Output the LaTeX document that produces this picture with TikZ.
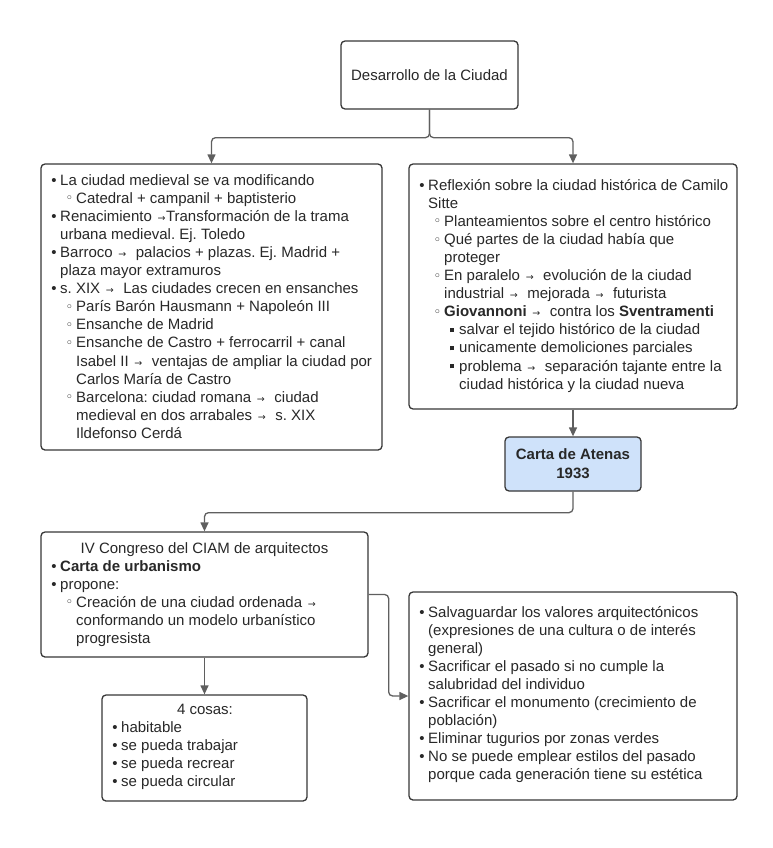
\documentclass[tikz,border=0pt]{standalone}
\usepackage{fontspec}
\setmainfont{Liberation Sans}
\newfontfamily\symfont{DejaVu Sans}
\usetikzlibrary{arrows.meta}
\definecolor{edgecol}{RGB}{55,55,55}
\definecolor{conncol}{RGB}{95,95,95}
\definecolor{txtcol}{RGB}{40,40,40}
\definecolor{cartafill}{RGB}{207,226,250}
\newcommand\bA{\par\leftskip=8pt\noindent\llap{\textbullet\hspace{3.5pt}}}
\newcommand\bB{\par\leftskip=24pt\noindent\llap{\raisebox{0.3pt}{\symfont\fontsize{13}{13}\selectfont ◦}\hspace{3pt}}}
\newcommand\bC{\par\leftskip=39pt\noindent\llap{\raisebox{2.6pt}{\rule{4pt}{4pt}}\hspace{5pt}}}
\newcommand\cl{\par\noindent}
\newcommand\rarr{\hspace{1.5pt}{\symfont\fontsize{9.5}{9.5}\selectfont →}\hspace{0.5pt}}
\newcommand\rarrs{\rarr\hspace{9pt}}
\newcommand\txt[2]{\parbox[t]{#1}{\raggedright\frenchspacing\fontsize{15}{18.1}\selectfont #2\par}}
\tikzset{
  box/.style={draw=edgecol, line width=1.3pt, rounded corners=4pt, fill=white, inner sep=0pt},
  tx/.style={anchor=base west, inner sep=0pt, text=txtcol},
  ctitle/.style={anchor=base, inner sep=0pt, text=txtcol, font=\fontsize{15}{18.1}\selectfont},
  conn/.style={draw=conncol, line width=1.3pt, rounded corners=4pt},
  arr/.style={conn, -{Triangle[length=9pt,width=8pt]}}
}
\begin{document}
\begin{tikzpicture}[x=1pt,y=-1pt]
\useasboundingbox (0,0) rectangle (773,848);
% boxes
\node[box, minimum width=177, minimum height=68] (top) at (429.5,75) {};
\node[box, minimum width=341, minimum height=286] (L1) at (211.5,307) {};
\node[box, minimum width=328, minimum height=245] (R1) at (573,286.5) {};
\node[box, fill=cartafill, minimum width=136, minimum height=54] (carta) at (573,464) {};
\node[box, minimum width=327, minimum height=125] (IV) at (204.5,594.5) {};
\node[box, minimum width=205, minimum height=106] (cosas) at (204.5,748) {};
\node[box, minimum width=328, minimum height=208] (R2) at (573,696) {};
% connectors
\draw[arr] (top.south) -- ++(0,28) -| (L1.north);
\draw[arr] (top.south) -- ++(0,28) -| (R1.north);
\draw[arr] (R1.south) -- (carta.north);
\draw[arr] (carta.south) -- ++(0,21) -| (IV.north);
\draw[arr] (IV.east) -- ++(20,0) |- (R2.west);
\draw[arr] (IV.south) -- (cosas.north);
% texts
\node[font=\fontsize{15}{18.1}\selectfont, inner sep=0pt, text=txtcol] (ttop) at (top) {Desarrollo de la Ciudad};
\node[font=\bfseries\fontsize{15}{19}\selectfont, inner sep=0pt, align=center, text=txtcol] (tcarta) at (carta) {Carta de Atenas\\1933};
\node[tx] (tL1) at (52,185) {\txt{330pt}{%
\bA La ciudad medieval se va modificando
\bB Catedral + campanil + baptisterio
\bA Renacimiento \rarr Transformación de la trama\cl urbana medieval. Ej. Toledo
\bA Barroco \rarrs palacios + plazas. Ej. Madrid +\cl plaza mayor extramuros
\bA s. XIX \rarrs Las ciudades crecen en ensanches
\bB París Barón Hausmann + Napoleón III
\bB Ensanche de Madrid
\bB Ensanche de Castro + ferrocarril + canal\cl Isabel II \rarrs ventajas de ampliar la ciudad por\cl Carlos María de Castro
\bB Barcelona: ciudad romana \rarrs ciudad\cl medieval en dos arrabales \rarrs s. XIX\cl Ildefonso Cerdá}};
\node[tx] (tR1) at (420,190) {\txt{316pt}{%
\bA Reflexión sobre la ciudad histórica de Camilo\cl Sitte
\bB Planteamientos sobre el centro histórico
\bB Qué partes de la ciudad había que\cl proteger
\bB En paralelo \rarrs evolución de la ciudad\cl industrial \rarrs mejorada \rarrs futurista
\bB \textbf{Giovannoni} \rarrs contra los \textbf{Sventramenti}
\bC salvar el tejido histórico de la ciudad
\bC unicamente demoliciones parciales
\bC problema \rarrs separación tajante entre la\cl ciudad histórica y la ciudad nueva}};
\node[ctitle] (tIVt) at (204.5,553) {IV Congreso del CIAM de arquitectos};
\node[tx] (tIV) at (52,571) {\txt{314pt}{%
\bA \textbf{Carta de urbanismo}
\bA propone:
\bB Creación de una ciudad ordenada \rarr\cl conformando un modelo urbanístico\cl progresista}};
\node[ctitle] (tcosast) at (205,714) {4 cosas:};
\node[tx] (tcosas) at (113,732) {\txt{190pt}{%
\bA habitable
\bA se pueda trabajar
\bA se pueda recrear
\bA se pueda circular}};
\node[tx] (tR2) at (420,617) {\txt{316pt}{%
\bA Salvaguardar los valores arquitectónicos\cl (expresiones de una cultura o de interés\cl general)
\bA Sacrificar el pasado si no cumple la\cl salubridad del individuo
\bA Sacrificar el monumento (crecimiento de\cl población)
\bA Eliminar tugurios por zonas verdes
\bA No se puede emplear estilos del pasado\cl porque cada generación tiene su estética}};
\end{tikzpicture}
\end{document}
